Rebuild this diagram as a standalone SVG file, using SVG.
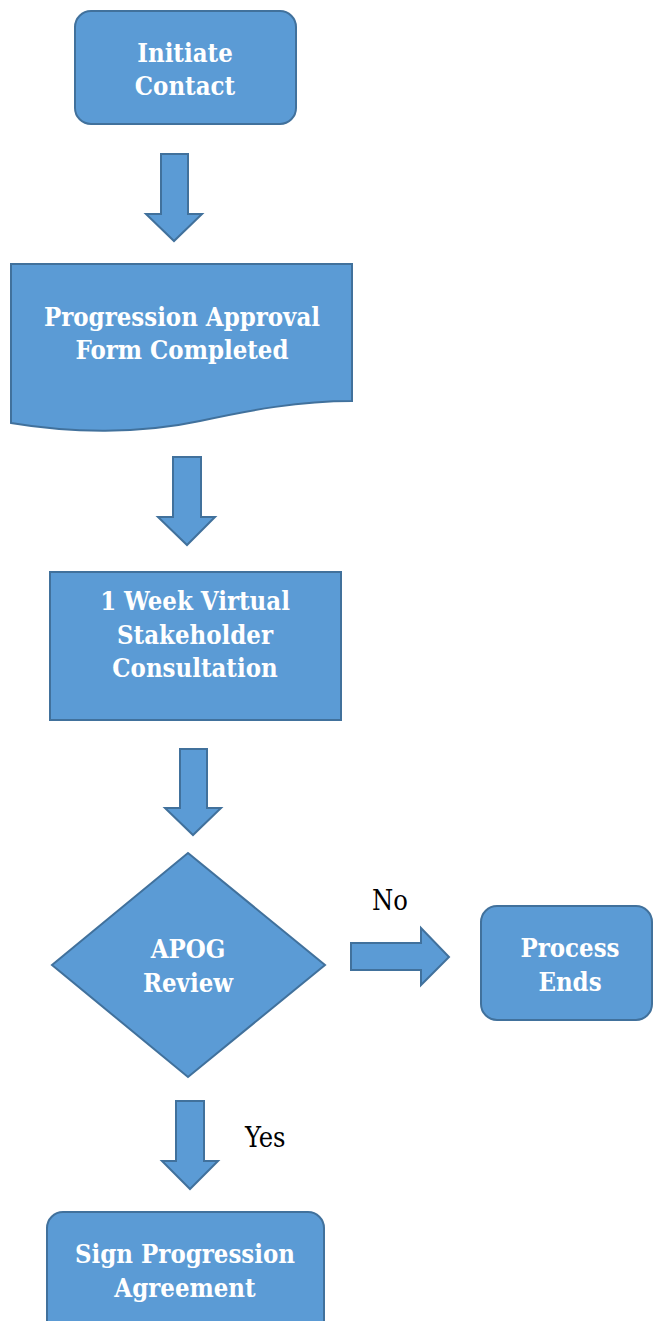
<svg xmlns="http://www.w3.org/2000/svg" width="653" height="1321" viewBox="0 0 653 1321">
<style>
.shape{fill:#5B9BD5;stroke:#41719C;stroke-width:2}
.lbl{font-family:'DejaVu Serif Condensed','DejaVu Serif',serif;font-stretch:condensed;font-weight:bold;font-size:25.5px;fill:#FFFFFF;text-anchor:middle}
.edge{font-family:'DejaVu Serif Condensed','DejaVu Serif',serif;font-stretch:condensed;font-size:27px;fill:#000000}
</style>
<rect width="653" height="1321" fill="#FFFFFF"/>
<g id="n1">
<rect class="shape" x="75" y="11" width="221" height="113" rx="16"/>
<text class="lbl" x="185" y="62">Initiate</text>
<text class="lbl" x="185" y="95">Contact</text>
</g>
<g id="n2">
<path class="shape" d="M11,264 H352 V401 C300,401 250,410 200,421 C140,434 70,433 11,423 Z"/>
<text class="lbl" x="182" y="326">Progression Approval</text>
<text class="lbl" x="182" y="359">Form Completed</text>
</g>
<g id="n3">
<rect class="shape" x="50" y="572" width="291" height="148"/>
<text class="lbl" x="195" y="610">1 Week Virtual</text>
<text class="lbl" x="195" y="644">Stakeholder</text>
<text class="lbl" x="195" y="677">Consultation</text>
</g>
<g id="n4">
<polygon class="shape" points="188,853 325,965 188,1077 52,965"/>
<text class="lbl" x="188" y="958">APOG</text>
<text class="lbl" x="188" y="992">Review</text>
</g>
<g id="n5">
<rect class="shape" x="481" y="906" width="171" height="114" rx="16"/>
<text class="lbl" x="570" y="957">Process</text>
<text class="lbl" x="570" y="991">Ends</text>
</g>
<g id="n6">
<rect class="shape" x="47" y="1212" width="277" height="130" rx="16"/>
<text class="lbl" x="185" y="1263">Sign Progression</text>
<text class="lbl" x="185" y="1297">Agreement</text>
</g>
<g id="connectors">
<polygon class="shape" points="161,154 188,154 188,214 202,214 174,241 146,214 161,214"/>
<polygon class="shape" points="173,457 201,457 201,517 215,517 187,545 158,517 173,517"/>
<polygon class="shape" points="180,749 207,749 207,808 221,808 193,835 165,808 180,808"/>
<polygon class="shape" points="351,943 421,943 421,928 449,957 421,985 421,970 351,970"/>
<polygon class="shape" points="176,1101 204,1101 204,1161 218,1161 190,1189 162,1161 176,1161"/>
<text class="edge" x="372" y="910">No</text>
<text class="edge" x="245" y="1147">Yes</text>
</g>
</svg>
